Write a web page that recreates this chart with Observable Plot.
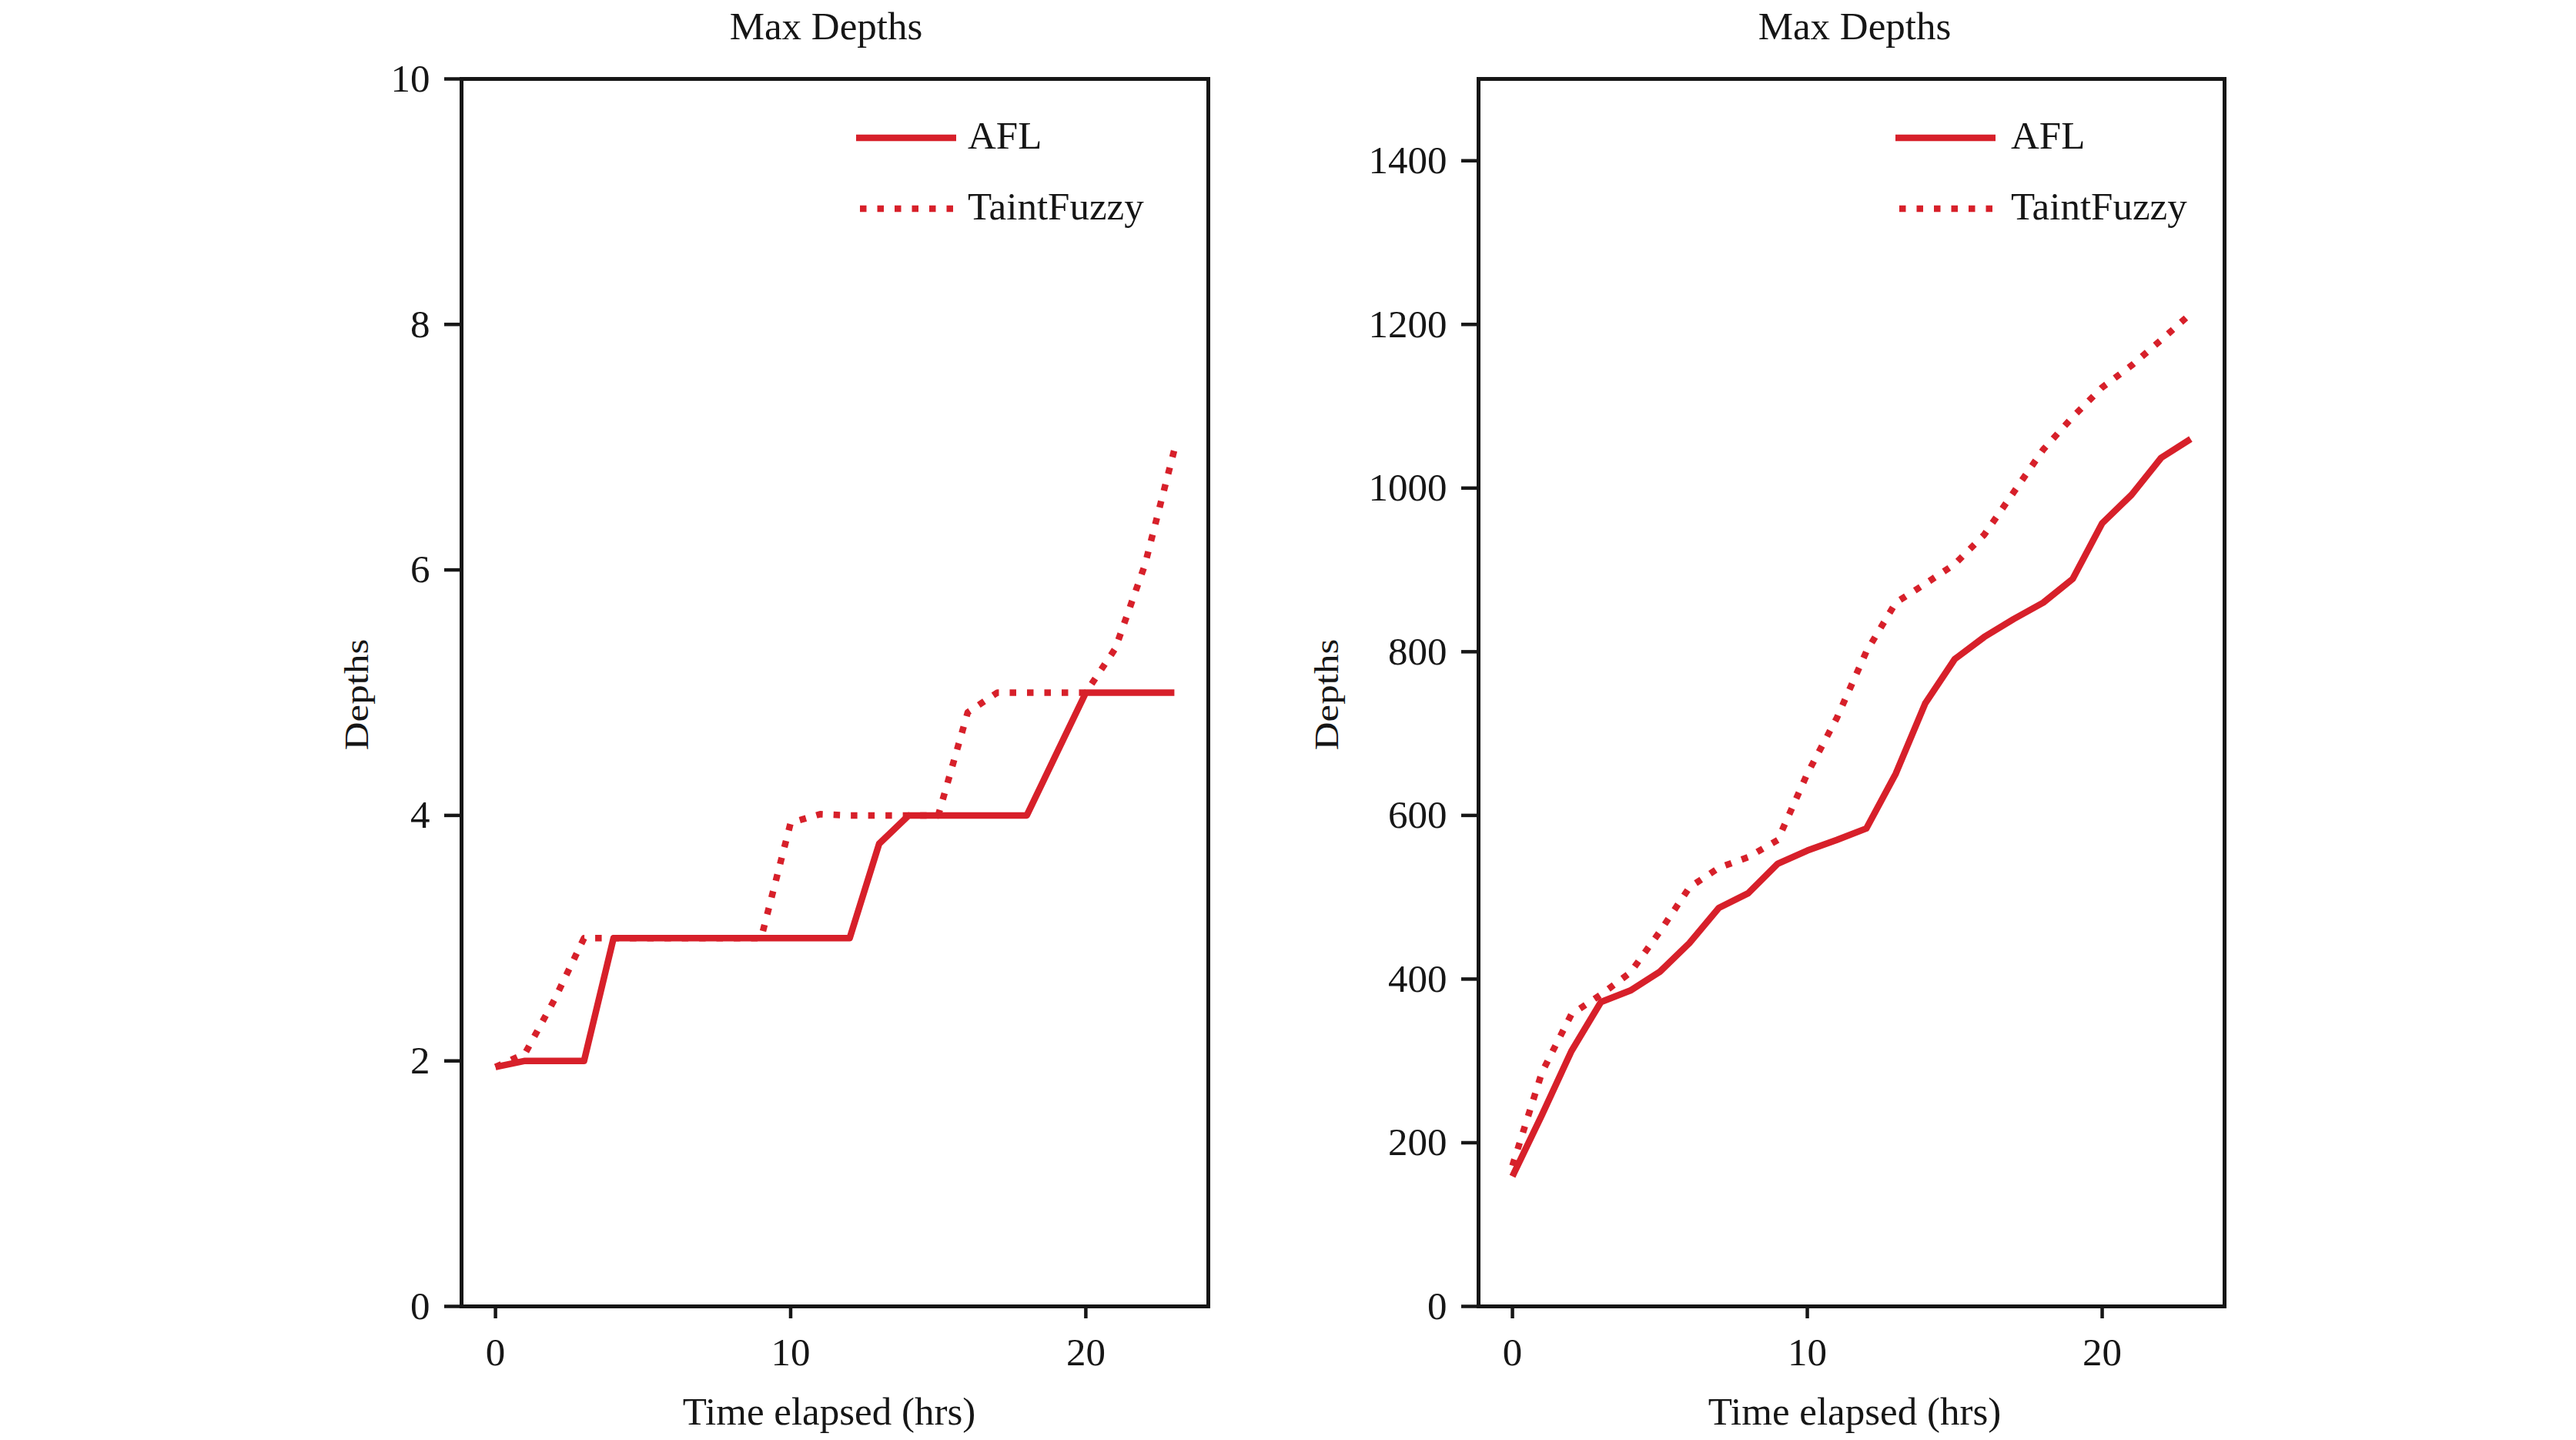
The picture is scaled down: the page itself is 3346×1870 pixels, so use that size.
<!DOCTYPE html>
<html>
<head>
<meta charset="utf-8">
<script src="https://cdn.jsdelivr.net/npm/d3@7"></script>
<script src="https://cdn.jsdelivr.net/npm/@observablehq/plot@0.6"></script>
<style>
  html, body { margin: 0; padding: 0; background: #fff; }
  #wrap { position: relative; width: 3346px; height: 1870px; overflow: hidden; }
  #left { position: absolute; left: 0; top: 0; }
  #right { position: absolute; left: 1680px; top: 0; }
  #overlay { position: absolute; left: 0; top: 0; pointer-events: none; }
</style>
</head>
<body>
<div id="wrap">
  <div id="left"></div>
  <div id="right"></div>
  <svg id="overlay" width="3346" height="1870"></svg>
</div>
<script>
// ---- data ----
const hours = [0,1,2,3,4,5,6,7,8,9,10,11,12,13,14,15,16,17,18,19,20,21,22,23];
const seriesNames = ["AFL", "TaintFuzzy"];

const leftAFL        = [1.95,2,2,2,3,3,3,3,3,3,3,3,3,3.77,4,4,4,4,4,4.5,5,5,5,5];
const leftTaintFuzzy = [1.95,2.06,2.5,3,3,3,3,3,3,3,3.94,4.01,4,4,4,4,4.84,5,5,5,5,5.36,6.04,6.98];

const rightAFL        = [159,234,312,372,386,409,444,487,505,541,557,570,584,651,737,791,818,840,860,889,957,992,1037,1060];
const rightTaintFuzzy = [172,286,357,381,408,458,512,536,549,570,651,719,800,860,883,907,943,995,1047,1087,1123,1150,1181,1213];

const xTicks = [0, 10, 20];
const leftYTicks = [0, 2, 4, 6, 8, 10];
const rightYTicks = [0, 200, 400, 600, 800, 1000, 1200, 1400];

const titleText = "Max Depths";
const xLabelText = "Time elapsed (hrs)";
const yLabelText = "Depths";

// ---- styling ----
const RED = "#d7202a";
const INK = "#161616";
const FONT = "'Liberation Serif', 'Times New Roman', serif";
const FS = 51;
const LW = 8.5;
const DASH = "8.5,14";

function panel(afl, tf, yDomain, yTicks, width, mL, mR) {
  const dA = hours.map((h, i) => ({h, v: afl[i]}));
  const dT = hours.map((h, i) => ({h, v: tf[i]}));
  return Plot.plot({
    width, height: 1870,
    marginLeft: mL, marginRight: mR, marginTop: 102, marginBottom: 174,
    style: {fontFamily: FONT, fontSize: FS + "px", color: INK, background: "transparent", overflow: "visible"},
    x: {domain: [-1.15, 24.15]},
    y: {domain: yDomain},
    marks: [
      Plot.line(dT, {x: "h", y: "v", stroke: RED, strokeWidth: LW, strokeDasharray: DASH, strokeLinecap: "butt", strokeLinejoin: "round"}),
      Plot.line(dA, {x: "h", y: "v", stroke: RED, strokeWidth: LW, strokeLinecap: "butt", strokeLinejoin: "round"}),
      Plot.axisX(xTicks, {tickSize: 16, tickPadding: 24, strokeWidth: 4.5, fontSize: FS, label: null, tickFormat: d => String(d)}),
      Plot.axisY(yTicks, {tickSize: 22, tickPadding: 19, strokeWidth: 4.5, fontSize: FS, label: null, tickFormat: d => String(d)}),
      Plot.frame({stroke: INK, strokeWidth: 5})
    ]
  });
}

document.getElementById("left").appendChild(
  panel(leftAFL, leftTaintFuzzy, [0, 10], leftYTicks, 1680, 599, 1680 - 1569)
);
document.getElementById("right").appendChild(
  panel(rightAFL, rightTaintFuzzy, [0, 1500], rightYTicks, 1666, 240, 1666 - 1209)
);

// ---- overlay: titles, axis labels, legends ----
const ov = d3.select("#overlay");
const panelsText = [
  {titleX: 1073, xLabelX: 1077, yLabelX: 478, legLineX: 1112, legTextX: 1257},
  {titleX: 2409, xLabelX: 2409, yLabelX: 1738, legLineX: 2462, legTextX: 2612}
];
panelsText.forEach(p => {
  ov.append("text").attr("x", p.titleX).attr("y", 51)
    .attr("text-anchor", "middle").attr("font-family", FONT).attr("font-size", FS)
    .attr("fill", INK).text(titleText);
  ov.append("text").attr("x", p.xLabelX).attr("y", 1850)
    .attr("text-anchor", "middle").attr("font-family", FONT).attr("font-size", FS)
    .attr("fill", INK).text(xLabelText);
  ov.append("text")
    .attr("transform", `translate(${p.yLabelX},902) rotate(-90) scale(1,0.86)`)
    .attr("text-anchor", "middle").attr("font-family", FONT).attr("font-size", FS)
    .attr("fill", INK).text(yLabelText);
  // legend
  const rows = [
    {name: seriesNames[0], y: 179, dash: null},
    {name: seriesNames[1], y: 271, dash: DASH}
  ];
  rows.forEach(r => {
    const ln = ov.append("line")
      .attr("x1", p.legLineX + (r.dash ? 5 : 0)).attr("x2", p.legLineX + 130)
      .attr("y1", r.y).attr("y2", r.y)
      .attr("stroke", RED).attr("stroke-width", LW).attr("stroke-linecap", "butt");
    if (r.dash) ln.attr("stroke-dasharray", r.dash);
    ov.append("text").attr("x", p.legTextX).attr("y", r.y + 14)
      .attr("font-family", FONT).attr("font-size", FS).attr("fill", INK).text(r.name);
  });
});
</script>
</body>
</html>
